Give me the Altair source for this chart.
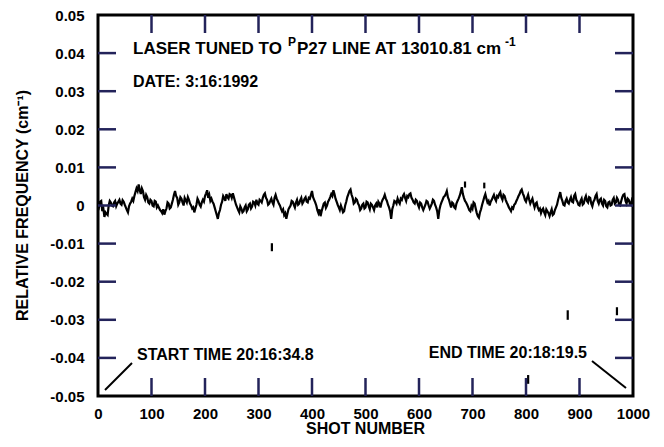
import altair as alt
import pandas as pd

# ---------------- data ----------------
# relative frequency, one value every 2 shots,
# in units of 1e-4 cm^-1
shots = list(range(0, 1001, 2))
rel_freq_e4 = [
    5, -3, 10, 12, -15, -8, -30, -18, -22, -25, 0, 12, 8, 0, -2, 8, 12, -2, 5, 10,
    15, 5, 2, 14, 10, 2, -5, -12, -18, -2, 5, 10, 18, 12, 25, 35, 45, 38, 55, 40,
    30, 45, 38, 22, 15, 28, 22, 8, 5, 15, 12, 0, -2, 12, 10, -5, 0, -6, -12, -15,
    -20, -10, -24, -15, -8, 8, 5, -8, -5, 5, 15, 28, 38, 25, 20, 2, 8, 22, 18, 8,
    0, 20, 14, 8, 22, 15, 5, 0, -8, -5, -18, -8, 2, 18, 12, 2, -3, 8, 15, 10,
    25, 32, 40, 20, 28, 12, 18, 10, 5, -5, -15, -25, -35, -20, -12, 2, 10, 25, 20, 12,
    30, 22, 18, 30, 28, 20, 32, 22, 12, 2, -5, -12, -18, -2, -8, -18, -15, -5, 0, -15,
    -10, 2, 5, -8, -3, 10, 8, 0, 15, 5, 2, 15, 12, 8, 20, 28, 32, 20, 15, 2,
    5, 12, 18, 8, 2, 20, 28, 18, 12, 5, 0, -8, -15, -10, -25, -20, -35, -22, -10, -5,
    0, 12, 10, 2, -5, 8, 15, 2, 5, 14, 20, 5, 10, 18, 22, 10, 8, 20, 18, 28,
    38, 22, 15, 8, 0, -12, -20, -10, -28, -15, -5, 5, 8, -6, 0, 10, 15, 22, 30, 25,
    40, 30, 18, 10, 2, -5, -12, 0, -8, -18, -15, 0, 10, 22, 30, 38, 42, 28, 20, 5,
    8, 18, 15, 5, 0, -12, -8, 2, 5, -8, -5, 10, 8, -2, -10, 5, 2, -5, -12, 0,
    5, -5, 10, 5, -5, 8, 15, 20, 28, 18, 12, 2, -5, -15, -35, -10, 0, 12, 10, 5,
    18, 10, 5, 18, 15, 25, 30, 20, 12, 25, 22, 30, 32, 20, 15, 8, 5, 15, 12, 2,
    -5, 8, 5, -5, -12, -5, 2, 12, 10, 0, -8, -2, 5, 15, 12, 2, -5, -15, -35, -12,
    0, 8, 15, 22, 25, 30, 38, 22, 15, 5, -5, 8, 5, -5, -8, 5, 12, 18, 25, 35,
    48, 30, 20, 12, 8, 2, -5, -12, -15, -2, -8, 8, 5, -8, -20, -28, -32, -18, -10, 2,
    12, 22, 30, 18, 8, 12, 0, 10, 15, 22, 28, 18, 12, 25, 22, 30, 35, 22, 15, 28,
    25, 15, 8, 2, -5, -10, -15, -5, -8, 2, 5, 12, 18, 25, 30, 38, 42, 32, 25, 15,
    10, 20, 28, 15, 5, 12, 18, 5, -5, 5, 8, -5, -12, -8, -20, -12, -8, -18, -25, -10,
    -15, -20, -28, -18, -10, -25, -22, -12, -5, 2, 15, 25, 35, 20, 12, 2, 0, 12, 18, 8,
    5, 15, 22, 10, 8, 25, 30, 15, 10, 2, 0, 12, 18, 2, 5, 18, 25, 12, 8, 22,
    20, 5, -2, 10, 15, 25, 30, 12, 5, 15, 18, 5, 0, 15, 12, -2, -5, 8, 10, 0,
    2, 15, 20, 5, 8, 20, 15, 2, 0, 12, 22, 28, 30, 12, 5, 18, 15, 5, 2, 15,
    10,
]

# isolated single-shot dropouts (short vertical dashes), cm^-1
outlier_shot = [325, 686, 722, 804, 878, 970]
outlier_lo = [-0.0120, 0.0047, 0.0045, -0.0468, -0.0300, -0.0288]
outlier_hi = [-0.0099, 0.0063, 0.0060, -0.0445, -0.0275, -0.0267]

y_tick_values = [0.05, 0.04, 0.03, 0.02, 0.01, 0.0, -0.01, -0.02, -0.03, -0.04, -0.05]
x_tick_values = [0, 100, 200, 300, 400, 500, 600, 700, 800, 900, 1000]
y_inner_ticks = [0.04, 0.03, 0.02, 0.01, 0.0, -0.01, -0.02, -0.03, -0.04]
x_inner_ticks = [100, 200, 300, 400, 500, 600, 700, 800, 900]

X_MIN, X_MAX = 0, 1000
Y_MIN, Y_MAX = -0.05, 0.05

# ---------------- layout ----------------
W, H = 535, 381
FONT = "Liberation Sans"
TICK = 18  # inward tick length in px
TICK_COLOR = "#23235a"
tick_dx = (X_MAX - X_MIN) * TICK / W
tick_dy = (Y_MAX - Y_MIN) * TICK / H

df_line = pd.DataFrame({"shot": shots, "freq": [v * 1e-4 for v in rel_freq_e4]})

df_out = pd.DataFrame({"shot": outlier_shot, "freq": outlier_lo, "freq2": outlier_hi})

# inward frame ticks on all four sides (x, x2, y, y2)
tick_rows = []
for v in y_inner_ticks:
    tick_rows.append({"shot": float(X_MIN), "shot2": X_MIN + tick_dx, "freq": v, "freq2": v})
    tick_rows.append({"shot": X_MAX - tick_dx, "shot2": float(X_MAX), "freq": v, "freq2": v})
for s in x_inner_ticks:
    tick_rows.append({"shot": float(s), "shot2": float(s), "freq": Y_MAX, "freq2": Y_MAX - tick_dy})
    tick_rows.append({"shot": float(s), "shot2": float(s), "freq": Y_MIN, "freq2": Y_MIN + tick_dy})
df_ticks = pd.DataFrame(tick_rows)
one = pd.DataFrame({"k": [0]})

xs = alt.Scale(domain=[X_MIN, X_MAX], nice=False, zero=False)
ys = alt.Scale(domain=[Y_MIN, Y_MAX], nice=False, zero=False)

xaxis = alt.Axis(values=x_tick_values, title=None, grid=False, domain=False,
                 ticks=False, tickSize=0, labelPadding=10, labelFontSize=15,
                 labelFontWeight="bold", format="d",
                 labelFont=FONT, labelColor="black", labelFlush=False)
yaxis = alt.Axis(values=y_tick_values, title=None, grid=False, domain=False,
                 ticks=False, tickSize=0, labelPadding=14, labelFontSize=15,
                 labelFontWeight="bold",
                 labelFont=FONT, labelColor="black", labelFlush=False,
                 labelExpr="datum.value == 0 ? '0' : replace(format(datum.value, '.2f'), '\u2212', '-')")

X = alt.X("shot:Q", scale=xs, axis=xaxis)
Y = alt.Y("freq:Q", scale=ys, axis=yaxis)

line = alt.Chart(df_line).mark_line(color="black", strokeWidth=2.2).encode(x=X, y=Y)

outliers = alt.Chart(df_out).mark_rule(color="black", strokeWidth=2.2).encode(
    x=X, y=Y, y2="freq2:Q")

frame_ticks = alt.Chart(df_ticks).mark_rule(color=TICK_COLOR, strokeWidth=2.5).encode(
    x=X, x2="shot2:Q", y=Y, y2="freq2:Q")

start_arrow = alt.Chart(one).mark_rule(color="black", strokeWidth=2).encode(
    x=alt.value(7), x2=alt.value(34), y=alt.value(375), y2=alt.value(348))
end_arrow = alt.Chart(one).mark_rule(color="black", strokeWidth=2).encode(
    x=alt.value(494), x2=alt.value(528), y=alt.value(346), y2=alt.value(373))


def label(text, x, y, size=16, align="left", angle=0):
    return alt.Chart(one).mark_text(
        text=text, font=FONT, fontSize=size, fontWeight="bold", color="black",
        align=align, baseline="middle", angle=angle
    ).encode(x=alt.value(x), y=alt.value(y))


texts = [
    label("LASER TUNED TO", 35, 34, 17),
    label("P", 190, 27, 12),
    label("P27 LINE AT 13010.81 cm", 199, 34, 17),
    label("-1", 407, 27, 12),
    label("DATE: 3:16:1992", 35, 67, 16),
    label("START TIME 20:16:34.8", 39, 340, 16),
    label("END TIME 20:18:19.5", 489, 338, 16, align="right"),
    label("SHOT NUMBER", W / 2, 414, 16, align="center"),
    label("RELATIVE FREQUENCY (cm\u207b\u00b9)", -75, H / 2, 16, align="center", angle=270),
]

chart = alt.layer(
    line, outliers, frame_ticks, start_arrow, end_arrow, *texts
).properties(
    width=W, height=H,
    autosize=alt.AutoSizeParams(type="none"),
    padding={"left": 90, "top": 7, "right": 18, "bottom": 43},
    background="white",
).configure_view(
    stroke="black", strokeWidth=3
)

chart.save("out.html", embed_options={"renderer": "svg", "actions": False})
